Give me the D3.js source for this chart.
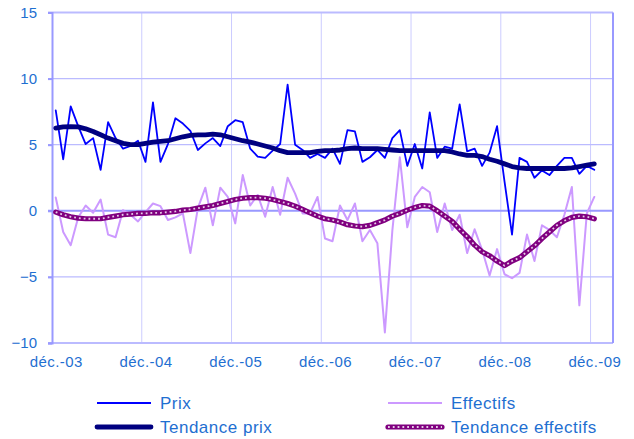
<!DOCTYPE html>
<html>
<head>
<meta charset="utf-8">
<script src="https://cdn.jsdelivr.net/npm/d3@7"></script>
<style>
  body { margin: 0; background: #fff; }
  text { font-family: "Liberation Sans", Arial, sans-serif; }
</style>
</head>
<body>
<div class="chart"></div>
<script>
// monthly data, déc.-03 .. déc.-09 (73 months), axis holds 75 categories
let nCategories = 75;
let xTickIndex = [0, 12, 24, 36, 48, 60, 72];
let xTickLabels = ["déc.-03", "déc.-04", "déc.-05", "déc.-06", "déc.-07", "déc.-08", "déc.-09"];
let yTicks = [-10, -5, 0, 5, 10, 15];

let prix = [
  7.6, 3.9, 7.9, 6.4, 5.05, 5.5, 3.1, 6.7, 5.5, 4.7, 4.9, 5.3,
  3.7, 8.2, 3.7, 5.05, 7.0, 6.6, 6.05, 4.6, 5.1, 5.5, 4.9, 6.4,
  6.85, 6.7, 4.7, 4.1, 4.0, 4.55, 5.05, 9.55, 5.0, 4.6, 4.0, 4.3,
  4.0, 4.7, 3.55, 6.1, 6.0, 3.7, 4.05, 4.6, 4.0, 5.5, 6.1, 3.4,
  5.05, 3.2, 7.45, 4.0, 4.85, 4.7, 8.05, 4.5, 4.7, 3.4, 4.4, 6.4,
  2.2, -1.8, 4.0, 3.7, 2.5, 3.05, 2.7, 3.4, 4.0, 4.0, 2.8, 3.4,
  3.1
];

let effectifs = [
  1.0, -1.6, -2.6, -0.5, 0.4, -0.15, 0.85, -1.8, -2.0, 0.05, -0.3, -0.8,
  -0.1, 0.55, 0.35, -0.7, -0.5, -0.2, -3.2, 0.2, 1.75, -1.1, 1.75, 1.05,
  -0.95, 2.7, 0.4, 1.2, -0.45, 1.8, -0.3, 2.5, 1.3, -0.2, -0.2, 1.05,
  -2.1, -2.3, 0.4, -0.7, 0.55, -2.3, -1.45, -2.45, -9.2, -1.5, 4.05, -1.25,
  1.05, 1.8, 1.4, -1.6, 0.55, -1.45, -0.3, -3.2, -1.4, -2.95, -4.9, -2.9,
  -4.8, -5.1, -4.7, -1.8, -3.8, -1.1, -1.45, -2.0, -0.3, 1.8, -7.15, -0.2,
  1.05
];

let tendancePrix = [
  6.25, 6.35, 6.37, 6.35, 6.2, 6.0, 5.75, 5.5, 5.3, 5.1, 5.0, 5.0,
  5.1, 5.2, 5.25, 5.3, 5.45, 5.6, 5.7, 5.75, 5.75, 5.8, 5.75, 5.6,
  5.45, 5.3, 5.2, 5.05, 4.9, 4.75, 4.55, 4.4, 4.4, 4.4, 4.4, 4.5,
  4.55, 4.55, 4.6, 4.7, 4.75, 4.7, 4.7, 4.7, 4.65, 4.6, 4.55, 4.55,
  4.55, 4.55, 4.55, 4.55, 4.55, 4.45, 4.3, 4.2, 4.2, 4.1, 3.9, 3.75,
  3.55, 3.35, 3.25, 3.2, 3.2, 3.2, 3.2, 3.2, 3.2, 3.25, 3.35, 3.45,
  3.55
];

let tendanceEffectifs = [
  -0.1, -0.3, -0.45, -0.55, -0.6, -0.6, -0.6, -0.5, -0.4, -0.3, -0.25, -0.2,
  -0.2, -0.15, -0.15, -0.1, -0.05, 0.05, 0.1, 0.2, 0.3, 0.4, 0.55, 0.7,
  0.85, 0.95, 1.0, 1.0, 0.95, 0.85, 0.7, 0.55, 0.35, 0.1, -0.15, -0.4,
  -0.6, -0.7, -0.85, -1.05, -1.15, -1.2, -1.1, -0.9, -0.7, -0.4, -0.2, 0.05,
  0.25, 0.4, 0.35, 0.0, -0.4, -0.8, -1.4, -1.95, -2.6, -3.1, -3.4, -3.8,
  -4.15, -3.8, -3.55, -3.1, -2.65, -2.1, -1.6, -1.1, -0.75, -0.5, -0.4, -0.45,
  -0.6
];

let width = 634;
let height = 439;
let plotLeft = 52, plotRight = 613, plotTop = 12.5, plotBottom = 343;
let labelBlue = "#1f6fd1";

let svg = d3.select(".chart")
  .append("svg")
  .attr("width", width)
  .attr("height", height);

let x = d3.scaleLinear().domain([0, nCategories]).range([plotLeft, plotRight]);
let y = d3.scaleLinear().domain([-10, 15]).range([plotBottom, plotTop]);

// gridlines
svg.append("g")
  .selectAll("line")
  .data(xTickIndex.slice(1))
  .enter().append("line")
  .attr("x1", d => x(d)).attr("x2", d => x(d))
  .attr("y1", plotTop).attr("y2", plotBottom)
  .attr("stroke", "#ccccff")
  .attr("stroke-width", 1);

svg.append("g")
  .selectAll("line")
  .data(yTicks)
  .enter().append("line")
  .attr("x1", plotLeft - 4).attr("x2", plotRight)
  .attr("y1", d => y(d)).attr("y2", d => y(d))
  .attr("stroke", d => d == 0 ? "#9999ff" : "#bbbbff")
  .attr("stroke-width", d => (d == 0 || d == 15 || d == -10) ? 2 : 1.2);

// right border
svg.append("line")
  .attr("x1", plotRight).attr("x2", plotRight)
  .attr("y1", plotTop).attr("y2", plotBottom)
  .attr("stroke", "#9999ff").attr("stroke-width", 2);

// y axis
let yAxis = svg.append("g")
  .attr("transform", "translate(" + plotLeft + ",0)")
  .call(d3.axisLeft(y).tickValues(yTicks).tickSize(4).tickPadding(11));
yAxis.select(".domain").attr("stroke", "#9999ff").attr("stroke-width", 2);
yAxis.selectAll(".tick line").attr("stroke", "#9999ff").attr("stroke-width", 2);
yAxis.selectAll("text")
  .attr("fill", labelBlue)
  .attr("font-size", 15)
  .style("font-family", "Liberation Sans, Arial, sans-serif");

// x axis labels
let xAxis = svg.append("g")
  .attr("transform", "translate(0," + plotBottom + ")")
  .call(d3.axisBottom(x)
    .tickValues(xTickIndex.map(d => d + 0.5))
    .tickFormat((d, i) => xTickLabels[i])
    .tickSize(0)
    .tickPadding(13));
xAxis.select(".domain").remove();
xAxis.selectAll("text")
  .attr("fill", labelBlue)
  .attr("font-size", 15)
  .attr("letter-spacing", 0.4)
  .style("font-family", "Liberation Sans, Arial, sans-serif");

let line = d3.line()
  .x((d, i) => x(i + 0.5))
  .y(d => y(d));

let series = [
  { name: "Prix", data: prix, color: "#0000ff", w: 1.8 },
  { name: "Effectifs", data: effectifs, color: "#cc99ff", w: 2 },
  { name: "Tendance prix", data: tendancePrix, color: "#000080", w: 4.8 },
  { name: "Tendance effectifs", data: tendanceEffectifs, color: "#800080", w: 5.2, dotted: true }
];

series.forEach(function(s) {
  svg.append("path")
    .datum(s.data)
    .attr("fill", "none")
    .attr("stroke", s.color)
    .attr("stroke-width", s.w)
    .attr("stroke-linejoin", "round")
    .attr("stroke-linecap", "round")
    .attr("d", line);
  if (s.dotted) {
    svg.append("path")
      .datum(s.data)
      .attr("fill", "none")
      .attr("stroke", "#ffffff")
      .attr("stroke-opacity", 0.8)
      .attr("stroke-width", 1.8)
      .attr("stroke-dasharray", "1.8,3")
      .attr("d", line);
  }
});

// legend
let legendPos = [
  { x: 97, y: 403 },
  { x: 388, y: 403 },
  { x: 97, y: 427 },
  { x: 388, y: 427 }
];

let legend = svg.append("g")
  .selectAll("g")
  .data(series)
  .enter().append("g")
  .attr("transform", (d, i) => "translate(" + legendPos[i].x + "," + legendPos[i].y + ")");

legend.append("line")
  .attr("x1", 0).attr("x2", 54)
  .attr("y1", 0).attr("y2", 0)
  .attr("stroke", d => d.color)
  .attr("stroke-width", d => d.w)
  .attr("stroke-linecap", d => d.w > 3 ? "round" : "butt");

legend.filter(d => d.dotted).append("line")
  .attr("x1", 0).attr("x2", 54)
  .attr("y1", 0).attr("y2", 0)
  .attr("stroke", "#ffffff")
  .attr("stroke-opacity", 0.8)
  .attr("stroke-width", 1.8)
  .attr("stroke-dasharray", "1.8,3");

legend.append("text")
  .attr("x", 63)
  .attr("y", 6)
  .attr("fill", labelBlue)
  .attr("font-size", 17)
  .attr("letter-spacing", 0.5)
  .text(d => d.name);
</script>
</body>
</html>
